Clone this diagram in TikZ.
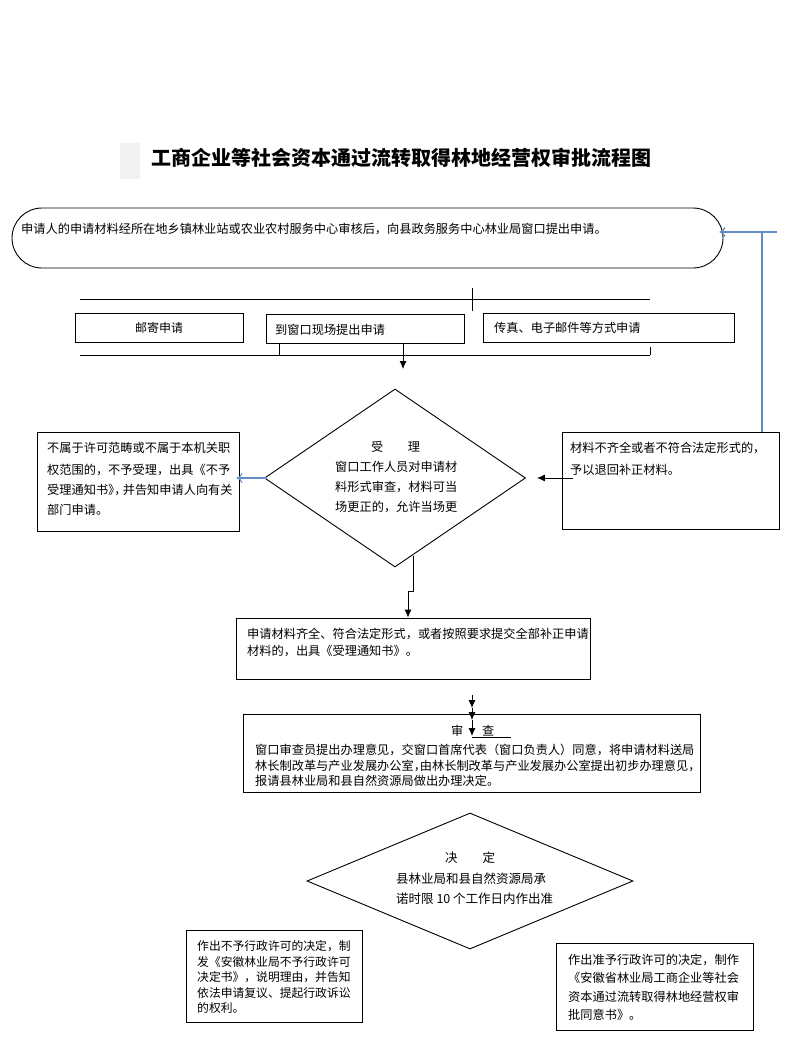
\documentclass[tikz,border=0pt]{standalone}
\usepackage{fontspec}
\setmainfont{Noto Sans CJK SC}
\usetikzlibrary{shapes.geometric,arrows.meta}
\definecolor{bluearr}{RGB}{100,140,195}
\begin{document}
\begin{tikzpicture}[x=1pt,y=-1pt,
  box/.style={draw,rectangle,line width=0.9pt,inner sep=0pt},
  dia/.style={draw,diamond,line width=0.9pt,inner sep=0pt},
  tl/.style={anchor=base west,inner sep=0pt,font=\fontsize{12.2}{14}\selectfont},
  tld/.style={anchor=base west,inner sep=0pt,font=\fontsize{12.5}{14}\selectfont},
  tlb/.style={anchor=base west,inner sep=0pt,font=\fontsize{11.8}{14}\selectfont},
  arr/.style={-{Latex[length=8pt,width=7pt]},line width=0.9pt},
  barr/.style={draw=bluearr,-{To[length=6pt,width=10pt]},line width=1.1pt},
  bline/.style={draw=bluearr,line width=1.1pt},
  plain/.style={line width=0.9pt}]
\fill[white] (0,0) rectangle (785,1041);
\useasboundingbox (0,0) rectangle (785,1041);
% title
\fill[black!5] (120,143) rectangle (140,179);
\node[inner sep=0pt,font=\fontsize{20}{24}\selectfont\bfseries] (title) at (401,158) {工商企业等社会资本通过流转取得林地经营权审批流程图};
% top rounded box
\node[box,rounded corners=30pt,minimum width=711pt,minimum height=60pt] (rnd) at (367.5,238) {};
\node[tl] (t0) at (21,233.6) {申请人的申请材料经所在地乡镇林业站或农业农村服务中心审核后，向县政务服务中心林业局窗口提出申请。};
% row of three
\coordinate (l1a) at (80,299); \coordinate (l1b) at (650,299);
\draw[plain] (l1a) -- (l1b);
\draw[plain] (472,288) -- (472,311);
\node[box,minimum width=168pt,minimum height=29pt,font=\fontsize{12}{14}\selectfont] (b1) at (159,327.5) {邮寄申请};
\node[box,minimum width=198pt,minimum height=29pt] (b2) at (365,328.5) {};
\node[tl] (t2) at (275,334.6) {到窗口现场提出申请};
\node[box,minimum width=251pt,minimum height=29pt] (b3) at (608.5,327.5) {};
\node[tl] (t3) at (494,332.6) {传真、电子邮件等方式申请};
\coordinate (l2a) at (80,355); \coordinate (l2b) at (650,355);
\draw[plain] (l2a) -- (l2b);
\draw[plain] (279,0 |- b2.south) -- (279,355);
\draw[plain] (650,347) -- (l2b);
% accept diamond
\node[dia,minimum width=261pt,minimum height=178pt] (d1) at (395,478) {};
\draw[arr] ([xshift=38pt]b2.south) -- ([xshift=8pt,yshift=-1pt]d1.north |- 0,368);
\node[tl] (a0) at (371,451.6) {受　　理};
\node[tl] (a1) at (335,471.6) {窗口工作人员对申请材};
\node[tl] (a2) at (335,491.6) {料形式审查，材料可当};
\node[tl] (a3) at (335,511.6) {场更正的，允许当场更};
% left box
\node[box,minimum width=202pt,minimum height=99pt] (lb) at (138,481.5) {};
\node[tl] (p1) at (47,452.6) {不属于许可范畴或不属于本机关职};
\node[tl] (p2) at (47,474.6) {权范围的，不予受理，出具《不予};
\node[tl] (p3) at (47,494.6) {受理通知书》\kern-.5em，\kern-.3em 并告知申请人向有关};
\node[tl] (p4) at (47,514.6) {部门申请。};
\draw[barr,shorten >=-3pt] ([xshift=3pt]d1.west) -- (d1.west -| lb.east);
% right box
\node[box,minimum width=217pt,minimum height=97pt] (rb) at (670.5,480.5) {};
\node[tl] (q1) at (570,452.6) {材料不齐全或者不符合法定形式的，};
\node[tl] (q2) at (570,474.6) {予以退回补正材料。};
\coordinate (rq) at (573,478);
\draw[arr] (rq) -- ([xshift=11pt]d1.east);
% blue feedback
\coordinate (bj) at (762,232);
\coordinate (bt) at (777,232);
\draw[bline] (rb.north -| bj) -- (bj);
\draw[barr,shorten >=-4pt] (bt) -- (bt -| rnd.east);
% accepted box
\node[box,minimum width=354pt,minimum height=61pt] (ab) at (413,648.5) {};
\node[tl] (s1) at (247,638.6) {申请材料齐全、符合法定形式，或者按照要求提交全部补正申请};
\node[tl] (s2) at (247,655.6) {材料的，出具《受理通知书》。};
\coordinate (c1) at (413,556);
\draw[arr] (c1) -- (413,591) -- (408,591) -- (408,0 |- ab.north);
% review box
\node[box,minimum width=457pt,minimum height=78pt] (rv) at (471.5,753) {};
\coordinate (r0) at (472,695);
\coordinate (r1) at (472,708);
\coordinate (r2) at (472,720);
\coordinate (r3) at (472,736);
\draw[arr] (r0) -- (r1);
\draw[arr] (r1) -- (r2);
\draw[arr] (r2) -- (r3);
\draw[plain] (472,737) -- (511,737);
\node[tl] (v0) at (451,735.6) {审};
\node[tl] (v00) at (482,735.6) {查};
\node[tl] (v1) at (255,754.6) {窗口审查员提出办理意见，交窗口首席代表（窗口负责人）同意，将申请材料送局};
\node[tl] (v2) at (255,770.6) {林长制改革与产业发展办公室，\kern-.5em 由林长制改革与产业发展办公室提出初步办理意见，};
\node[tl] (v3) at (255,785.6) {报请县林业局和县自然资源局做出办理决定。};
% decision diamond
\node[dia,minimum width=326pt,minimum height=136pt] (d2) at (470,881) {};
\node[tld] (w0) at (445,862.8) {决　　定};
\node[tld] (w1) at (396,883.8) {县林业局和县自然资源局承};
\node[tld] (w2) at (396,903.8) {诺时限 10 个工作日内作出准};
% bottom left
\node[box,minimum width=176pt,minimum height=92pt] (bl) at (274,976) {};
\node[tlb] (x1) at (197,950.5) {作出不予行政许可的决定，制};
\node[tlb] (x2) at (197,966.5) {发《安徽林业局不予行政许可};
\node[tlb] (x3) at (197,981.5) {决定书》，说明理由，并告知};
\node[tlb] (x4) at (197,997.5) {依法申请复议、提起行政诉讼};
\node[tlb] (x5) at (197,1012.5) {的权利。};
% bottom right
\node[box,minimum width=197pt,minimum height=87pt] (br) at (654.5,986.5) {};
\node[tl] (y1) at (568,964.6) {作出准予行政许可的决定，制作};
\node[tl] (y2) at (568,982.6) {《安徽省林业局工商企业等社会};
\node[tl] (y3) at (568,1001.6) {资本通过流转取得林地经营权审};
\node[tl] (y4) at (568,1019.6) {批同意书》。};
\end{tikzpicture}
\end{document}
